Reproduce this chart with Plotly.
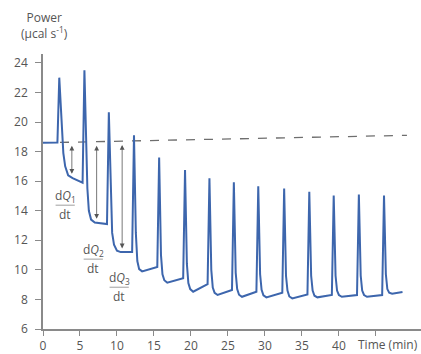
import plotly.graph_objects as go

# Thermogram vertices (time in min, power in µcal/s)
time_min = [0.0, 1.95,
            2.2, 2.5, 2.75, 3.0, 3.4, 4.0, 5.35,
            5.6, 5.85, 6.0, 6.2, 6.5, 7.0, 8.65,
            8.9, 9.15, 9.35, 9.6, 10.0, 10.5, 12.05,
            12.3, 12.55, 12.75, 13.0, 13.4, 15.45,
            15.7, 15.95, 16.15, 16.4, 16.8, 18.95,
            19.2, 19.45, 19.65, 19.9, 20.3, 22.25,
            22.5, 22.75, 22.95, 23.2, 23.6, 25.55,
            25.8, 26.05, 26.25, 26.5, 26.9, 28.85,
            29.1, 29.35, 29.55, 29.8, 30.2, 32.35,
            32.6, 32.85, 33.05, 33.3, 33.7, 35.75,
            36.0, 36.25, 36.45, 36.7, 37.1, 39.05,
            39.3, 39.55, 39.75, 40.0, 40.4, 42.45,
            42.7, 42.95, 43.15, 43.4, 43.8, 45.85,
            46.1, 46.35, 46.55, 46.8, 47.2, 48.6]
power = [18.6, 18.62,
         23.0, 20.2, 17.9, 17.0, 16.4, 16.2, 15.9,
         23.5, 18.0, 15.5, 14.0, 13.4, 13.2, 13.1,
         20.66, 15.0, 12.5, 11.7, 11.3, 11.2, 11.2,
         19.1, 12.5, 10.6, 10.05, 9.9, 10.2,
         17.6, 11.0, 9.7, 9.3, 9.13, 9.44,
         16.75, 10.4, 9.1, 8.7, 8.52, 9.04,
         16.2, 10.0, 8.8, 8.45, 8.3, 8.64,
         15.93, 9.8, 8.7, 8.32, 8.18, 8.52,
         15.66, 9.7, 8.65, 8.28, 8.14, 8.45,
         15.5, 9.6, 8.6, 8.2, 8.07, 8.34,
         15.28, 9.6, 8.6, 8.25, 8.14, 8.3,
         15.03, 9.6, 8.6, 8.3, 8.18, 8.3,
         15.1, 9.6, 8.6, 8.3, 8.18, 8.3,
         15.03, 9.7, 8.7, 8.45, 8.38, 8.5]

# Extrapolated baseline (dashed)
baseline_t = [2.3, 49.2]
baseline_p = [18.62, 19.1]

# dQ/dt arrows: x position, top, bottom
arrow_t = [3.9, 7.25, 10.7]
arrow_top = [18.5, 18.5, 18.55]
arrow_bot = [16.5, 13.45, 11.45]

# dQ/dt labels: x, numerator y, denominator y
label_t = [3.0, 6.8, 10.3]
label_num = [15.0, 11.35, 9.45]
label_den = [13.75, 10.1, 8.2]
label_sub = ["1", "2", "3"]

y_ticks = [6, 8, 10, 12, 14, 16, 18, 20, 22, 24]
x_ticks = [0, 5, 10, 15, 20, 25, 30, 35, 40, 45]
x_ticktext = ["0", "5", "10", "15", "20", "25", "30", "35", "40", ""]

FONT = "Open Sans"
TXT = "#555555"
AX = "#8a8a8a"

fig = go.Figure()
fig.add_trace(go.Scatter(x=baseline_t, y=baseline_p, mode="lines",
                         line=dict(color="#6e6e6e", width=1.3, dash="dash"),
                         hoverinfo="skip", showlegend=False))
fig.add_trace(go.Scatter(x=time_min, y=power, mode="lines",
                         line=dict(color="#3d66ad", width=2),
                         showlegend=False))

annotations = []
shapes = []
for t, top, bot in zip(arrow_t, arrow_top, arrow_bot):
    annotations.append(dict(x=t, y=bot, ax=t, ay=top, xref="x", yref="y",
                            axref="x", ayref="y", text="", showarrow=True,
                            arrowhead=2, startarrowhead=2, arrowside="end+start",
                            arrowsize=1.2, startarrowsize=1.2,
                            arrowwidth=0.8, arrowcolor="#555555"))
for t, yn, yd, s in zip(label_t, label_num, label_den, label_sub):
    annotations.append(dict(x=t, y=yn, xref="x", yref="y", showarrow=False,
                            text="d<i>Q</i><sub>" + s + "</sub>",
                            font=dict(family=FONT, size=12, color=TXT)))
    annotations.append(dict(x=t, y=yd, xref="x", yref="y", showarrow=False,
                            text="dt", font=dict(family=FONT, size=12, color=TXT)))
    shapes.append(dict(type="line", xref="x", yref="y",
                       x0=t - 1.3, x1=t + 1.3, y0=(yn + yd) / 2, y1=(yn + yd) / 2,
                       line=dict(color="#888888", width=0.8)))

annotations.append(dict(x=0.005, y=1.17, xref="paper", yref="paper", xanchor="center",
                        yanchor="top", showarrow=False, align="center",
                        text="Power<br>(µcal s<sup>-1</sup>)",
                        font=dict(family=FONT, size=12, color=TXT)))
annotations.append(dict(x=0.998, y=-0.055, xref="paper", yref="paper", xanchor="right",
                        yanchor="middle", showarrow=False, text="Time (min)",
                        font=dict(family=FONT, size=12, color=TXT)))

fig.update_layout(
    width=421, height=354,
    margin=dict(l=43, r=0, t=54, b=25),
    paper_bgcolor="white", plot_bgcolor="white",
    font=dict(family=FONT, size=12, color=TXT),
    annotations=annotations, shapes=shapes,
    xaxis=dict(range=[0, 51.1], tickvals=x_ticks, ticktext=x_ticktext,
               showline=True, linecolor=AX, linewidth=1.5, ticks="outside",
               ticklen=5, tickcolor=AX, tickwidth=1.2, showgrid=False,
               zeroline=False, tickfont=dict(size=12, color=TXT)),
    yaxis=dict(range=[6, 24.6], tickvals=y_ticks, showline=True, linecolor=AX,
               linewidth=1.5, ticks="outside", ticklen=6, tickcolor=AX,
               tickwidth=1.2, showgrid=False, zeroline=False,
               ticklabelstandoff=5,
               tickfont=dict(size=12, color=TXT)),
)

fig.write_html("out.html")
